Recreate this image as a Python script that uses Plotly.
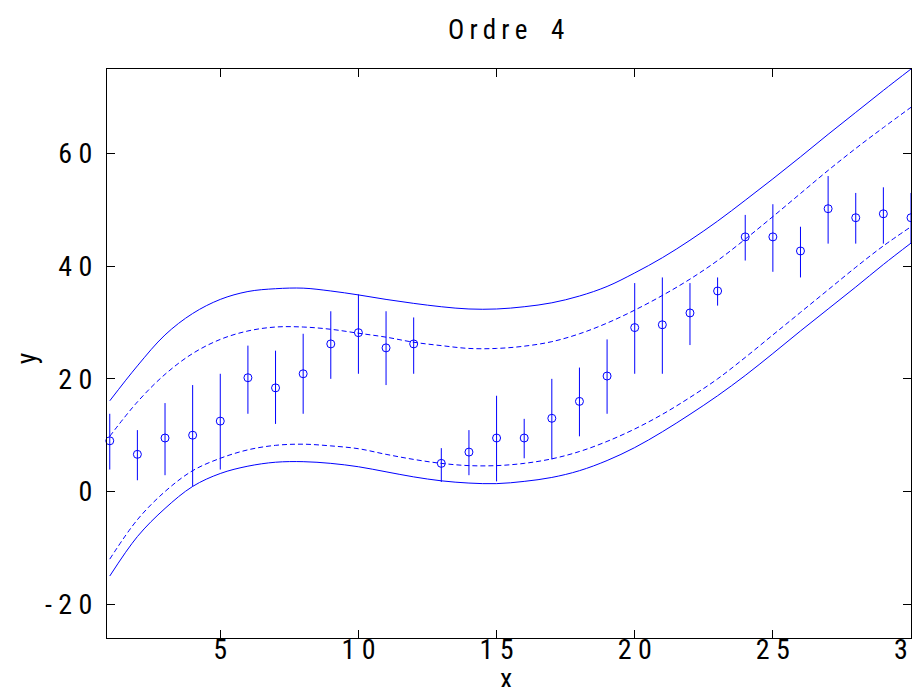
import plotly.graph_objects as go

# ---- data ----
x_pts = list(range(1, 31))
y_pts = [9.0, 6.6, 9.5, 10.0, 12.5, 20.2, 18.4, 20.9, 26.2, 28.2,
         25.5, 26.2, 5.0, 7.0, 9.5, 9.5, 13.0, 16.0, 20.5, 29.1,
         29.6, 31.7, 35.6, 45.2, 45.2, 42.7, 50.2, 48.6, 49.3, 48.6]
y_top = [13.8, 10.9, 15.7, 18.9, 20.9, 25.9, 25.0, 28.0, 32.0, 35.0,
         32.0, 30.9, 7.7, 10.9, 17.0, 12.9, 20.0, 22.0, 27.0, 37.0,
         38.0, 37.0, 38.0, 49.1, 51.0, 47.0, 56.0, 53.0, 54.0, 53.0]
y_bot = [3.9, 2.0, 2.9, 0.9, 3.9, 13.8, 12.0, 13.8, 20.0, 20.9,
         18.9, 20.9, 1.7, 2.9, 1.8, 5.9, 5.7, 9.8, 13.8, 20.9,
         20.9, 26.0, 33.0, 41.0, 39.0, 38.0, 44.0, 44.0, 44.0, 44.0]

x_curve = list(range(1, 31))
upper_solid = [16.1, 22.3, 27.8, 31.6, 34.1, 35.5, 36.0, 36.1, 35.6, 34.9,
               34.1, 33.4, 32.8, 32.4, 32.4, 32.8, 33.5, 34.7, 36.4, 38.8,
               41.5, 44.6, 48.0, 51.7, 55.5, 59.4, 63.4, 67.3, 71.2, 75.0]
upper_dash = [9.8, 15.9, 20.8, 24.5, 27.0, 28.5, 29.2, 29.2, 28.8, 28.1,
              27.4, 26.5, 25.9, 25.4, 25.4, 25.8, 26.6, 28.0, 29.9, 32.2,
              34.8, 37.7, 41.0, 44.8, 48.8, 52.9, 57.0, 60.9, 64.6, 68.2]
lower_dash = [-12.0, -5.0, 0.0, 3.7, 5.9, 7.4, 8.2, 8.4, 8.1, 7.6,
              6.6, 5.7, 5.0, 4.6, 4.6, 5.0, 5.8, 7.1, 8.9, 11.1,
              13.7, 16.7, 20.0, 23.8, 27.8, 31.8, 35.8, 39.8, 43.6, 47.0]
lower_solid = [-15.0, -8.0, -3.0, 0.9, 3.2, 4.5, 5.2, 5.3, 5.0, 4.4,
               3.5, 2.6, 1.9, 1.5, 1.4, 1.8, 2.5, 3.7, 5.5, 7.8,
               10.6, 13.7, 17.0, 20.6, 24.5, 28.5, 32.4, 36.3, 40.3, 44.1]

x_ticks = [5, 10, 15, 20, 25, 30]
x_ticktext = ["5", "1 0", "1 5", "2 0", "2 5", "3 0"]
y_ticks = [-20, 0, 20, 40, 60]
y_ticktext = ["- 2 0", "0", "2 0", "4 0", "6 0"]

title_text = "O\u2009r\u2009d\u2009r\u2009e\u20034"
x_label = "x"
y_label = "y"

BLUE = "#0000ff"
FONT = "Roboto Condensed, DejaVu Sans Condensed, Liberation Sans"
FS = 28

fig = go.Figure()

for yy, dash in [(upper_solid, "solid"), (upper_dash, "5px,3px"),
                 (lower_dash, "5px,3px"), (lower_solid, "solid")]:
    fig.add_trace(go.Scatter(
        x=x_curve, y=yy, mode="lines", line_shape="spline",
        line=dict(color=BLUE, width=1, dash=dash),
        hoverinfo="skip", showlegend=False))

fig.add_trace(go.Scatter(
    x=x_pts, y=y_pts, mode="markers",
    marker=dict(symbol="circle-open", size=8, color=BLUE, line=dict(width=1, color=BLUE)),
    error_y=dict(type="data", symmetric=False,
                 array=[t - v for t, v in zip(y_top, y_pts)],
                 arrayminus=[v - b for v, b in zip(y_pts, y_bot)],
                 color=BLUE, thickness=1, width=0),
    cliponaxis=False, showlegend=False))

axis_common = dict(showgrid=False, zeroline=False, showline=True, linecolor="black",
                   linewidth=1, mirror="ticks", ticks="inside", ticklen=8,
                   tickcolor="black", automargin=False, ticklabeloverflow="allow",
                   tickfont=dict(family=FONT, size=FS, color="black"))

fig.update_layout(
    width=904, height=679,
    margin=dict(l=99, r=1, t=61, b=49),
    paper_bgcolor="white", plot_bgcolor="white",
    xaxis=dict(range=[0.9, 30], tickvals=x_ticks, ticktext=x_ticktext,
               ticklabelstandoff=-14, **axis_common),
    yaxis=dict(range=[-26, 75], tickvals=y_ticks, ticktext=y_ticktext,
               ticklabelstandoff=8, **axis_common),
)

fig.add_annotation(text=title_text, xref="paper", yref="paper", x=0.4957, y=1.0686,
                   xanchor="center", yanchor="middle", showarrow=False,
                   font=dict(family=FONT, size=27, color="black"))
fig.add_annotation(text=x_label, xref="paper", yref="paper", x=0.4957, y=-0.072,
                   xanchor="center", yanchor="middle", showarrow=False,
                   font=dict(family=FONT, size=FS, color="black"))
fig.add_annotation(text=y_label, xref="paper", yref="paper", x=-0.100, y=0.491,
                   xanchor="center", yanchor="middle", showarrow=False, textangle=-90,
                   font=dict(family=FONT, size=FS, color="black"))

fig.write_html("out.html")
